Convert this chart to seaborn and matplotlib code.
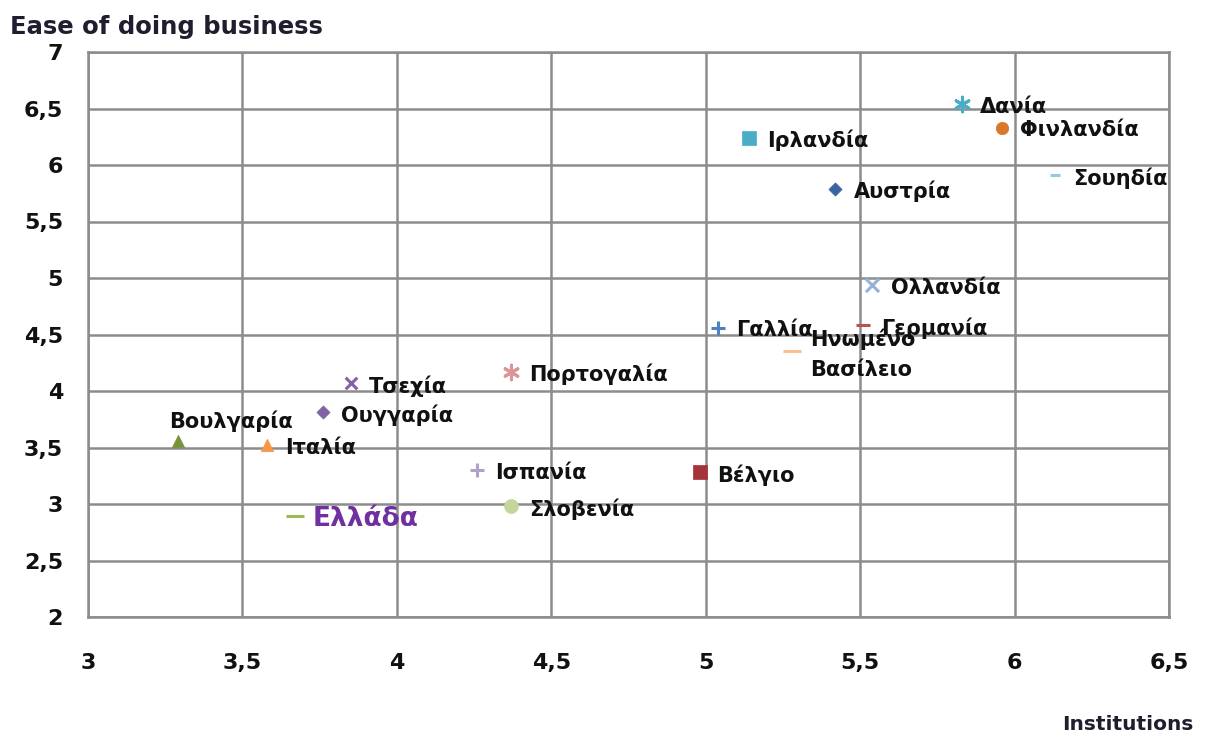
import matplotlib
matplotlib.use("Agg")
import matplotlib.pyplot as plt
import seaborn as sns
import pandas as pd
from matplotlib.ticker import FuncFormatter

# ---- data ----
countries = ["Αυστρία", "Βέλγιο", "Βουλγαρία", "Τσεχία", "Δανία", "Φινλανδία",
             "Γαλλία", "Γερμανία", "Ελλάδα", "Ουγγαρία", "Ιρλανδία", "Ιταλία",
             "Ολλανδία", "Πορτογαλία", "Σλοβενία", "Ισπανία", "Σουηδία",
             "Ηνωμένο\nΒασίλειο"]
institutions = [5.42, 4.98, 3.29, 3.85, 5.83, 5.96, 5.04, 5.51, 3.67, 3.76,
                5.14, 3.58, 5.54, 4.37, 4.37, 4.26, 6.13, 5.28]
ease_business = [5.79, 3.28, 3.56, 4.07, 6.54, 6.33, 4.56, 4.58, 2.89, 3.81,
                 6.24, 3.52, 4.94, 4.17, 2.98, 3.30, 5.91, 4.35]
x_ticks = [3, 3.5, 4, 4.5, 5, 5.5, 6, 6.5]
y_ticks = [2, 2.5, 3, 3.5, 4, 4.5, 5, 5.5, 6, 6.5, 7]

df = pd.DataFrame({"country": countries, "inst": institutions, "ease": ease_business})

# ---- styles ----
markers = ["D", "s", "^", "x", (6, 2, 0), "o", "+", "_", "_", "D", "s", "^",
           "x", (6, 2, 0), "o", "+", "_", "_"]
colors = ["#3A64A0", "#A4343A", "#77933C", "#8064A2", "#4BACC6", "#D9782B",
          "#4F81BD", "#C0504D", "#9BBB59", "#8064A2", "#4BACC6", "#F79646",
          "#95B3D7", "#D99694", "#C3D69B", "#B3A2C7", "#93CDDD", "#FAC090"]
sizes = [45, 110, 80, 70, 110, 80, 90, 90, 160, 45, 110, 80, 90, 110, 100, 90, 60, 160]

sns.set_style("white")
plt.rcParams["font.family"] = ["DejaVu Sans"]

fig = plt.figure(figsize=(12.24, 7.38), dpi=100)
ax = fig.add_axes([88 / 1224, 1 - 617 / 738, (1169 - 88) / 1224, (617 - 52) / 738])

for i, row in df.iterrows():
    m = markers[i]
    filled = m in ("D", "s", "^", "o")
    kw = dict(marker=m, s=sizes[i], ax=ax, zorder=3)
    if filled:
        kw.update(color=colors[i], edgecolor=colors[i], linewidth=0.5)
    else:
        kw.update(color=colors[i], linewidth=2.2)
    sns.scatterplot(x=[row["inst"]], y=[row["ease"]], **kw)

# labels
for i, row in df.iterrows():
    name = row["country"]
    if name == "Βουλγαρία":
        off = (-6, 14)
    else:
        off = (13, -2)
    if name == "Ελλάδα":
        ax.annotate(name, (row["inst"], row["ease"]), xytext=off,
                    textcoords="offset points", ha="left", va="center",
                    fontsize=19, fontweight="bold", color="#7030A0", zorder=4)
    else:
        ax.annotate(name, (row["inst"], row["ease"]), xytext=off,
                    textcoords="offset points", ha="left", va="center",
                    fontsize=15, fontweight="bold", color="#111111", zorder=4,
                    linespacing=1.6)

ax.set_xlim(3, 6.5)
ax.set_ylim(2, 7)
ax.set_xticks(x_ticks)
ax.set_yticks(y_ticks)
fmt = FuncFormatter(lambda v, p: (f"{v:g}").replace(".", ","))
ax.xaxis.set_major_formatter(fmt)
ax.yaxis.set_major_formatter(fmt)
ax.grid(True, color="#8C8C8C", linewidth=1.8)
ax.set_axisbelow(True)
for s in ax.spines.values():
    s.set_visible(True)
    s.set_color("#8C8C8C")
    s.set_linewidth(1.8)
ax.tick_params(axis="both", length=0, labelsize=16, colors="#111111")
ax.tick_params(axis="x", pad=26)
ax.tick_params(axis="y", pad=18)
for lab in ax.get_xticklabels() + ax.get_yticklabels():
    lab.set_fontweight("bold")
ax.set_xlabel("")
ax.set_ylabel("")

fig.text(10 / 1224, 1 - 27 / 738, "Ease of doing business", fontsize=17.5,
         fontweight="bold", color="#1E1E2E", ha="left", va="center")
fig.text(1194 / 1224, 1 - 724 / 738, "Institutions", fontsize=14.5,
         fontweight="bold", color="#1E1E2E", ha="right", va="center")

fig.savefig("out.png", dpi=100)
